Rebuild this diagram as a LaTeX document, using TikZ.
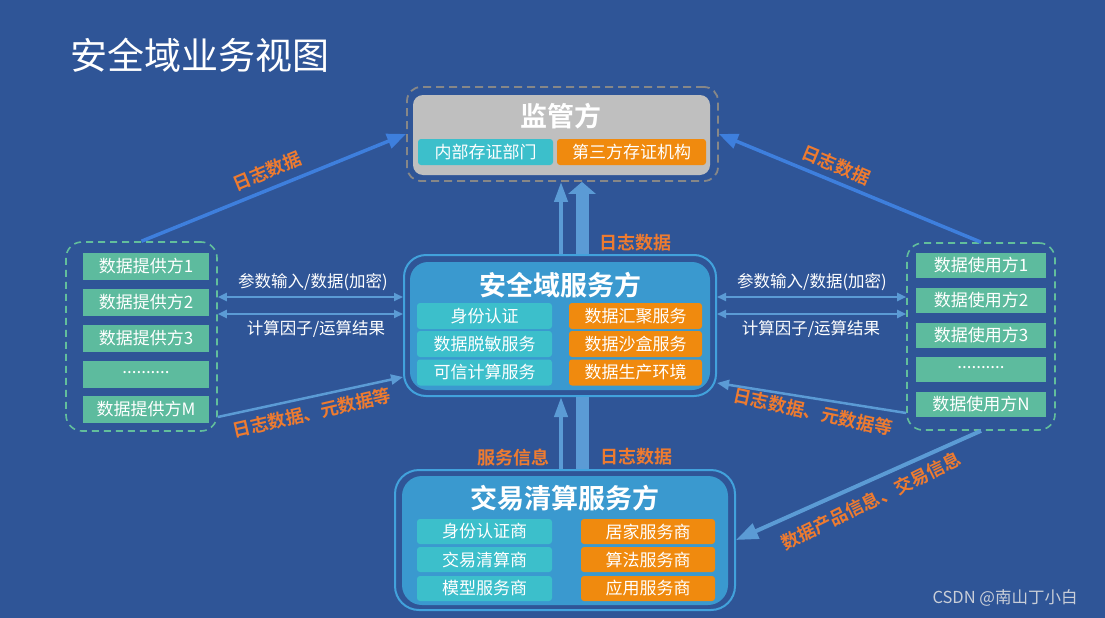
\documentclass[tikz,border=0pt]{standalone}
\usepackage{fontspec}
\setmainfont{Noto Sans CJK SC}[BoldFont={Noto Sans CJK SC Bold}]
\usetikzlibrary{arrows.meta,calc}
\definecolor{bgblue}{HTML}{2F5597}
\definecolor{logblue}{HTML}{3E7FDD}
\definecolor{lightblue}{HTML}{5B9BD5}
\definecolor{labelorange}{HTML}{EE7B30}
\definecolor{tealc}{HTML}{3CBFCB}
\definecolor{orangec}{HTML}{F08A0E}
\definecolor{greenc}{HTML}{5DBB9E}
\definecolor{secblue}{HTML}{3A99CF}
\definecolor{ringblue}{HTML}{42A2DC}
\definecolor{supgray}{HTML}{BFBFBF}
\definecolor{dashgray}{HTML}{878787}
\definecolor{dashgreen}{HTML}{62BE9C}
\definecolor{wmgray}{HTML}{C9CED8}
\newcommand{\fsz}[1]{\fontsize{#1}{#1}\selectfont}

\begin{document}
\begin{tikzpicture}[x=1pt,y=-1pt,
  box/.style={rectangle,rounded corners=3pt,text=white,font=\fsz{17},inner sep=0pt,minimum height=26pt},
  tealbox/.style={box,fill=tealc,minimum width=135pt},
  orangebox/.style={box,fill=orangec,minimum width=133pt},
  greenbox/.style={box,fill=greenc,rounded corners=0pt,minimum width=126pt,minimum height=27pt},
  grpdash/.style={rectangle,draw=dashgreen,line width=1.6pt,dash pattern=on 7pt off 5pt,rounded corners=16pt,inner sep=0pt},
  supdash/.style={rectangle,draw=dashgray,line width=1.8pt,dash pattern=on 8pt off 5pt,rounded corners=14pt,inner sep=0pt},
  ring/.style={rectangle,draw=ringblue,line width=2pt,rounded corners=22pt,inner sep=0pt},
  panel/.style={rectangle,fill=secblue,rounded corners=18pt,inner sep=0pt},
  headtxt/.style={text=white,font=\bfseries\fsz{27},inner sep=0pt},
  orangetxt/.style={text=labelorange,font=\bfseries\fsz{18},inner sep=0pt},
  handtxt/.style={text=white,font=\fsz{16.5},inner sep=0pt},
  logarrow/.style={draw=logblue,line width=3.5pt,-{Triangle[width=15pt,length=19pt]}},
  thinup/.style={draw=lightblue,line width=4pt,-{Triangle[width=13pt,length=20pt]}},
  thickup/.style={draw=lightblue,line width=13pt,-{Triangle[width=27pt,length=12pt]}},
  thickbar/.style={draw=lightblue,line width=13pt},
  dblarrow/.style={draw=lightblue,line width=2pt,{Triangle[width=8pt,length=9pt]}-{Triangle[width=8pt,length=9pt]}},
  lightarrow/.style={draw=lightblue,line width=2.5pt,-{Triangle[width=10pt,length=12pt]}},
  bigarrow/.style={draw=lightblue,line width=4pt,-{Triangle[width=16pt,length=22pt]}}]
\useasboundingbox (0,0) rectangle (1105,618);
\fill[bgblue] (0,0) rectangle (1105,618);

\draw(70,55) node[anchor=west,text=white,font=\fsz{37},inner sep=0pt] (title) {安全域业务视图};

% supervisor
\draw(562.5,134) node[supdash,minimum width=311pt,minimum height=94pt] (sup) {};
\draw(561.5,135) node[panel,fill=supgray,rounded corners=10pt,minimum width=297pt,minimum height=80pt] (supin) {};
\draw(561,116) node[headtxt] (suphead) {监管方};
\draw(485.5,152) node[tealbox] (s1) {内部存证部门};
\draw(631.5,152) node[orangebox,minimum width=149pt] (s2) {第三方存证机构};

% data providers / users
\draw(141.5,336.5) node[grpdash,minimum width=151pt,minimum height=189pt] (prov) {};
\foreach \y/\t [count=\i] in {266/数据提供方1,302.5/数据提供方2,338.5/数据提供方3,374/\raisebox{3pt}{..........},409.5/数据提供方M}
  \draw(146,\y) node[greenbox] (p\i) {\t};
\draw(981,336.5) node[grpdash,minimum width=148pt,minimum height=187pt] (user) {};
\foreach \y/\t [count=\i] in {265/数据使用方1,300/数据使用方2,335/数据使用方3,369/\raisebox{3pt}{..........},404/数据使用方N}
  \draw(981,\y) node[greenbox,minimum width=130pt,minimum height=25pt] (u\i) {\t};

% security domain
\draw(560,325.5) node[ring,minimum width=312pt,minimum height=141pt] (sec) {};
\draw(560,326) node[panel,minimum width=300pt,minimum height=128pt] (secin) {};
\draw(560,285) node[headtxt] (sechead) {安全域服务方};
\foreach \y/\a/\b [count=\i] in {316/身份认证/数据汇聚服务,344/数据脱敏服务/数据沙盒服务,372.5/可信计算服务/数据生产环境}{
  \draw(484.5,\y) node[tealbox] (sl\i) {\a};
  \draw(635.5,\y) node[orangebox] (sr\i) {\b};
}

% clearing
\draw(565,540) node[ring,rounded corners=24pt,minimum width=340pt,minimum height=140pt] (trade) {};
\draw(565,540.5) node[panel,rounded corners=20pt,minimum width=326pt,minimum height=129pt] (tradein) {};
\draw(565,498) node[headtxt] (tradehead) {交易清算服务方};
\foreach \y/\a/\b [count=\i] in {531.5/身份认证商/居家服务商,559.5/交易清算商/算法服务商,588.5/模型服务商/应用服务商}{
  \draw(484.5,\y) node[tealbox,minimum height=25pt] (tl\i) {\a};
  \draw(648,\y) node[orangebox,minimum width=134pt,minimum height=25pt] (tr\i) {\b};
}

% arrows
\coordinate (vthin) at (561,0);
\coordinate (vthick) at (582,0);
\coordinate (h1) at (0,297);
\coordinate (h2) at (0,314);
\coordinate (d1) at (0,417);
\coordinate (d2) at (0,377);
\coordinate (d3) at (0,413);
\coordinate (d4) at (0,383);
\coordinate (d5) at (0,540);

\draw[logarrow] (prov.north) -- (sup.west);
\draw[logarrow] (user.north) -- (sup.east);
\draw(267,171) node[orangetxt,rotate=22.6] (lg1) {日志数据};
\draw(836,165) node[orangetxt,rotate=-22.6] (lg2) {日志数据};

\draw[thinup] (sec.north -| vthin) -- (sup.south -| vthin);
\draw[thickup] (sec.north -| vthick) -- (sup.south -| vthick);
\draw(635,243) node[orangetxt] (lg3) {日志数据};

\draw[thinup] (trade.north -| vthin) -- (sec.south -| vthin);
\draw[thickbar] (trade.north -| vthick) -- (sec.south -| vthick);
\draw(513,458) node[orangetxt] (lg4) {服务信息};
\draw(636,457) node[orangetxt] (lg5) {日志数据};

\draw[dblarrow] (prov.east |- h1) -- (sec.west |- h1);
\draw[dblarrow] (prov.east |- h2) -- (sec.west |- h2);
\draw(313,282) node[handtxt] (hl1) {参数输入/数据(加密)};
\draw(316,329) node[handtxt] (hl2) {计算因子/运算结果};
\draw[dblarrow] (sec.east |- h1) -- (user.west |- h1);
\draw[dblarrow] (sec.east |- h2) -- (user.west |- h2);
\draw(812,282) node[handtxt] (hr1) {参数输入/数据(加密)};
\draw(811,329) node[handtxt] (hr2) {计算因子/运算结果};

\draw[lightarrow] (prov.east |- d1) -- (sec.west |- d2);
\draw(312,413) node[orangetxt,rotate=13] (lg6) {日志数据、元数据等};
\draw[lightarrow] (user.west |- d3) -- (sec.east |- d4);
\draw(813,412) node[orangetxt,rotate=-12] (lg7) {日志数据、元数据等};

\draw[bigarrow] (user.south) -- (trade.east |- d5);
\draw(871,501) node[orangetxt,rotate=26] (lg8) {数据产品信息、交易信息};

\draw(1005,598) node[text=wmgray,font=\fsz{16.5},inner sep=0pt] (wm) {CSDN @南山丁小白};
\end{tikzpicture}
\end{document}
